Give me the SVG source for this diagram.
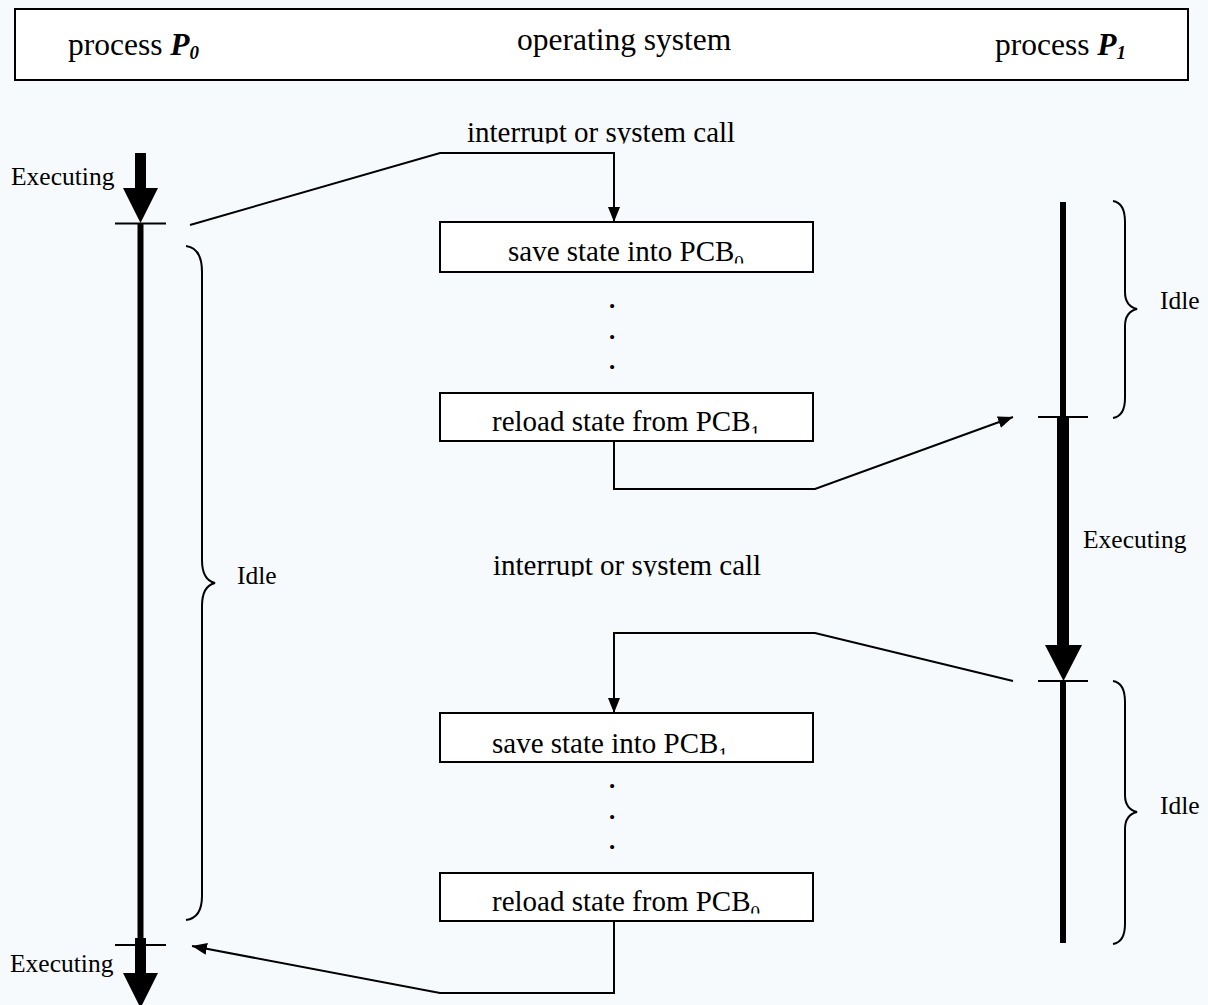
<svg xmlns="http://www.w3.org/2000/svg" width="1208" height="1005" viewBox="0 0 1208 1005">
  <style>
    text { font-family: "Liberation Serif", "Times New Roman", serif; fill: #000; }
    .hdr { font-size: 31.5px; }
    .lbl { font-size: 25.5px; }
    .box-t { font-size: 29px; }
    .dot { font-size: 25px; font-weight: bold; }
    .sub { font-size: 19px; }
    .box { fill: #fff; stroke: #000; stroke-width: 2; }
    .conn { fill: none; stroke: #000; stroke-width: 2; }
    .brace { fill: none; stroke: #000; stroke-width: 2; }
    .tick { stroke: #000; stroke-width: 2; }
  </style>
  <defs>
    <marker id="arrow" markerUnits="userSpaceOnUse" markerWidth="16" markerHeight="12" refX="15" refY="6" orient="auto">
      <path d="M0,0 L15,6 L0,12 Z" fill="#000"/>
    </marker>
    <clipPath id="clip-call1"><rect x="400" y="100" width="420" height="43.5"/></clipPath>
    <clipPath id="clip-call2"><rect x="400" y="530" width="420" height="46.5"/></clipPath>
    <clipPath id="clip-b1"><rect x="440" y="222" width="373" height="41.5"/></clipPath>
    <clipPath id="clip-b2"><rect x="440" y="393" width="373" height="40.5"/></clipPath>
    <clipPath id="clip-b3"><rect x="440" y="713" width="373" height="41.5"/></clipPath>
    <clipPath id="clip-b4"><rect x="440" y="873" width="373" height="40.5"/></clipPath>
  </defs>

  <!-- page -->
  <rect x="0" y="0" width="1208" height="1005" fill="#f7fafd"/>

  <!-- header band -->
  <g id="header">
    <rect x="15" y="9" width="1173" height="71" class="box"/>
    <text class="hdr" x="68" y="55">process <tspan font-weight="bold" font-style="italic">P</tspan><tspan class="sub" font-weight="bold" font-style="italic" dy="4">0</tspan></text>
    <text class="hdr" x="517" y="49.5">operating system</text>
    <text class="hdr" x="995" y="55">process <tspan font-weight="bold" font-style="italic">P</tspan><tspan class="sub" font-weight="bold" font-style="italic" dy="4">1</tspan></text>
  </g>

  <!-- process P0 timeline -->
  <g id="p0-timeline">
    <rect x="135" y="153" width="11" height="36"/>
    <path d="M123,188 L158,188 L140.5,223 Z"/>
    <line x1="115" y1="223.5" x2="166" y2="223.5" class="tick"/>
    <rect x="137.5" y="224" width="6" height="716"/>
    <rect x="135" y="938" width="11" height="36"/>
    <path d="M123,973 L158,973 L140.5,1008 Z"/>
    <line x1="115" y1="945" x2="166" y2="945" class="tick"/>
    <text class="lbl" x="11" y="185">Executing</text>
    <text class="lbl" x="10" y="972">Executing</text>
    <path class="brace" d="M186,246 Q202,248 202,272 L202,560 Q202,580 215,583 Q202,586 202,606 L202,896 Q202,918 186,920"/>
    <text class="lbl" x="237" y="584">Idle</text>
  </g>

  <!-- process P1 timeline -->
  <g id="p1-timeline">
    <rect x="1060" y="202" width="6" height="216"/>
    <line x1="1038" y1="417" x2="1088" y2="417" class="tick"/>
    <rect x="1057" y="417" width="12" height="229"/>
    <path d="M1045,645 L1082,645 L1063.5,681 Z"/>
    <line x1="1038" y1="681" x2="1088" y2="681" class="tick"/>
    <rect x="1060" y="681" width="6" height="262"/>
    <path class="brace" d="M1113,201 Q1125,203 1125,222 L1125,292 Q1125,306 1137,309 Q1125,312 1125,326 L1125,398 Q1125,416 1113,418"/>
    <text class="lbl" x="1160" y="309">Idle</text>
    <text class="lbl" x="1083" y="548">Executing</text>
    <path class="brace" d="M1113,681 Q1125,683 1125,702 L1125,795 Q1125,809 1137,812 Q1125,815 1125,829 L1125,924 Q1125,942 1113,944"/>
    <text class="lbl" x="1160" y="814">Idle</text>
  </g>

  <!-- operating system column -->
  <g id="call-1">
    <text class="box-t" x="467" y="141.5" clip-path="url(#clip-call1)">interrupt or system call</text>
  </g>
  <g id="save-pcb0">
    <rect x="440" y="222" width="373" height="50" class="box"/>
    <text class="box-t" x="508" y="261" clip-path="url(#clip-b1)">save state into PCB<tspan class="sub" dy="8">0</tspan></text>
  </g>
  <g id="dots-1">
    <text class="dot" x="612" y="308" text-anchor="middle">.</text>
    <text class="dot" x="612" y="339" text-anchor="middle">.</text>
    <text class="dot" x="612" y="369" text-anchor="middle">.</text>
  </g>
  <g id="reload-pcb1">
    <rect x="440" y="393" width="373" height="48" class="box"/>
    <text class="box-t" x="492" y="431" clip-path="url(#clip-b2)">reload state from PCB<tspan class="sub" dy="8">1</tspan></text>
  </g>
  <g id="call-2">
    <text class="box-t" x="493" y="574.5" clip-path="url(#clip-call2)">interrupt or system call</text>
  </g>
  <g id="save-pcb1">
    <rect x="440" y="713" width="373" height="49" class="box"/>
    <text class="box-t" x="492" y="753" clip-path="url(#clip-b3)">save state into PCB<tspan class="sub" dy="8">1</tspan></text>
  </g>
  <g id="dots-2">
    <text class="dot" x="612" y="788" text-anchor="middle">.</text>
    <text class="dot" x="612" y="819" text-anchor="middle">.</text>
    <text class="dot" x="612" y="849" text-anchor="middle">.</text>
  </g>
  <g id="reload-pcb0">
    <rect x="440" y="873" width="373" height="48" class="box"/>
    <text class="box-t" x="492" y="911" clip-path="url(#clip-b4)">reload state from PCB<tspan class="sub" dy="8">0</tspan></text>
  </g>

  <!-- connectors -->
  <g id="connectors">
    <path class="conn" d="M190,225 L440,153 L614,153 L614,222" marker-end="url(#arrow)"/>
    <path class="conn" d="M614,441 L614,489 L815,489 L1013,417" marker-end="url(#arrow)"/>
    <path class="conn" d="M1013,681 L815,633 L614,633 L614,713" marker-end="url(#arrow)"/>
    <path class="conn" d="M614,921 L614,993 L440,993 L192,946" marker-end="url(#arrow)"/>
  </g>
</svg>
